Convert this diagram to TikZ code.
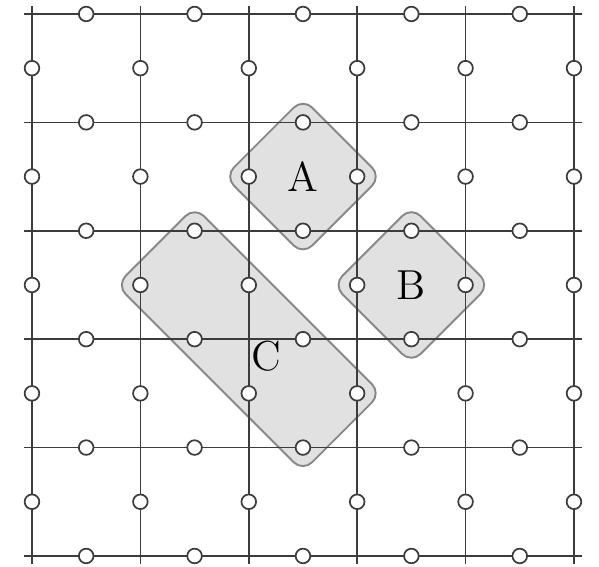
\documentclass[tikz,border=0pt]{standalone}
\usetikzlibrary{positioning}
\definecolor{GridGray}{RGB}{60,60,60}
\definecolor{RegionFill}{RGB}{225,225,225}
\definecolor{RegionEdge}{RGB}{135,135,135}
\tikzset{
  gridline/.style={draw=GridGray,line width=0.45pt},
  sitenode/.style={circle,draw=GridGray,fill=white,line width=0.45pt,inner sep=0pt,minimum size=1.35mm},
  region/.style={draw=RegionEdge,fill=RegionFill,line width=0.5pt,rounded corners=1.2mm},
  regionlabel/.style={font=\fontsize{11}{13}\selectfont,inner sep=0pt}
}
\begin{document}
\begin{tikzpicture}
\useasboundingbox (-0.295,-0.101) rectangle (5.231,5.129);
% shaded regions below the lattice
\draw[region,rotate around={45:(2.5,3.5)}] (1.99,2.99) rectangle (3.01,4.01);
\draw[region,rotate around={45:(3.5,2.5)}] (2.99,1.99) rectangle (4.01,3.01);
\draw[region,rotate around={-45:(2,2)}] (0.784,1.49) rectangle (3.216,2.51);

% lattice lines
\foreach \k in {0,...,5}{
  \draw[gridline] (-0.075,\k) -- (5.075,\k);
  \draw[gridline] (\k,-0.075) -- (\k,5.075);
}

% sites on the edges
\foreach \i in {0,...,4}{
  \foreach \k in {0,...,5}{
    \node[sitenode] (h\i\k) at (\i+0.5,\k) {};
    \node[sitenode] (v\k\i) at (\k,\i+0.5) {};
  }
}

\node[regionlabel] (labA) at (2.5,3.5) {A};
\node[regionlabel] (labB) at (3.5,2.5) {B};
\node[regionlabel] (labC) at (2.16,1.84) {C};
\end{tikzpicture}
\end{document}
